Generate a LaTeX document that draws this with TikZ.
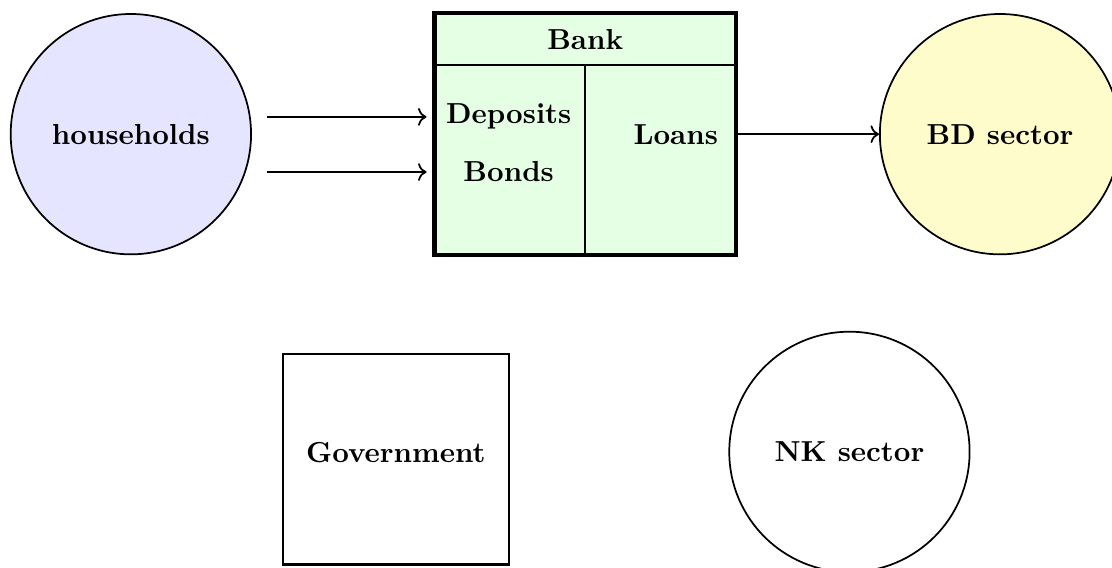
\documentclass[tikz,border=0pt]{standalone}
\usepackage{tikz}
\usetikzlibrary{arrows.meta,positioning,calc}

\begin{document}
\begin{tikzpicture}[font=\bfseries,
  agent/.style={circle, draw, semithick, minimum size=2.92cm, inner sep=0pt},
  flow/.style={->, semithick}]
\useasboundingbox (0,0) rectangle (13.51,-6.90);
% sectors
\node[agent, fill=blue!10] (hh) at (1.59,-1.63) {households};
\node[agent, fill=yellow!20] (bd) at (12.15,-1.63) {BD sector};
\node[agent] (nk) at (10.32,-5.49) {NK sector};
% government
\node[draw, thick, minimum width=2.74cm, minimum height=2.56cm] (gov) at (4.81,-5.58) {};
\node (govtxt) at ([yshift=0.085cm]gov.center) {Government};
% bank balance sheet
\node[draw, ultra thick, fill=green!10, minimum width=3.66cm, minimum height=2.94cm] (bank) at (7.11,-1.63) {};
\draw[semithick] ([yshift=-0.66cm]bank.north west) coordinate (hl) -- ([yshift=-0.66cm]bank.north east) coordinate (hr);
\draw[semithick] (bank.south) -- (bank.south |- hl);
\node (banktxt) at (7.11,-0.486) {Bank};
\node (dep) at (6.18,-1.42) {Deposits};
\node (bonds) at (6.18,-2.09) {Bonds};
\node (loans) at (8.21,-1.63) {Loans};
% flows
\draw[flow, shorten <=0.18cm, shorten >=0.07cm] (hh.east |- dep) -- (bank.west |- dep);
\draw[flow, shorten <=0.18cm, shorten >=0.07cm] (hh.east |- bonds) -- (bank.west |- bonds);
\draw[flow] (bank.east) -- (bd.west);
\end{tikzpicture}
\end{document}
